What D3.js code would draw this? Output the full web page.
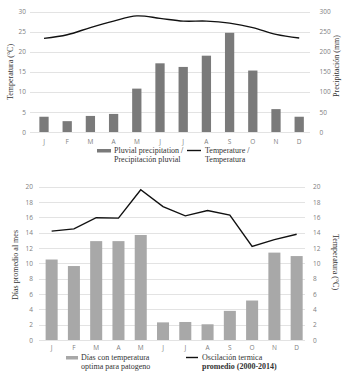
<!DOCTYPE html>
<html>
<head>
<meta charset="utf-8">
<script src="https://cdn.jsdelivr.net/npm/d3@7"></script>
<style>
  body { margin: 0; background: #fff; }
  svg { display: block; }
  .tick text { font-family: "Open Sans", sans-serif; font-size: 6.5px; fill: #808080; }
  .title { font-family: "Liberation Serif", serif; font-size: 8px; fill: #333; }
</style>
</head>
<body>
<div id="chart"></div>
<script>
const months = ['J', 'F', 'M', 'A', 'M', 'J', 'J', 'A', 'S', 'O', 'N', 'D'];

// top chart
const precipitation = [38, 27, 40, 45, 108, 171, 162, 190, 247, 153, 57, 38];
const temperature = [23.3, 24.2, 26.0, 27.6, 28.9, 28.3, 27.6, 27.6, 27.1, 26.0, 24.3, 23.4];
const tempTicks = [0, 5, 10, 15, 20, 25, 30];
const precTicks = [0, 50, 100, 150, 200, 250, 300];

// bottom chart
const optimalDays = [10.5, 9.65, 12.9, 12.9, 13.7, 2.3, 2.35, 2.05, 3.8, 5.15, 11.4, 10.95];
const thermalOscillation = [14.2, 14.5, 15.95, 15.9, 19.6, 17.4, 16.2, 16.9, 16.3, 12.2, 13.1, 13.8];
const dayTicks = [0, 2, 4, 6, 8, 10, 12, 14, 16, 18, 20];

const svg = d3.select('#chart')
    .append('svg')
    .attr('width', 346)
    .attr('height', 382);

const idx = months.map((m, i) => i);

function drawPanel(opt) {
    const g = svg.append('g');

    const x = d3.scaleBand()
        .domain(idx)
        .range(opt.xRange)
        .padding(0);

    const yL = d3.scaleLinear().domain(opt.leftDomain).range(opt.yRange);
    const yR = d3.scaleLinear().domain(opt.rightDomain).range(opt.yRange);

    // gridlines
    g.append('g')
        .selectAll('line')
        .data(opt.leftTicks)
        .join('line')
        .attr('x1', opt.gridX[0])
        .attr('x2', opt.gridX[1])
        .attr('y1', d => Math.round(yL(d)) + 0.5)
        .attr('y2', d => Math.round(yL(d)) + 0.5)
        .attr('stroke', '#e3e3e3')
        .attr('stroke-width', 1);

    // bars
    const barScale = opt.barsOnRight ? yR : yL;
    const bw = x.bandwidth() * opt.barRatio;
    g.append('g')
        .selectAll('rect')
        .data(opt.bars)
        .join('rect')
        .attr('x', (d, i) => x(i) + (x.bandwidth() - bw) / 2)
        .attr('y', d => barScale(d))
        .attr('width', bw)
        .attr('height', d => barScale(0) - barScale(d))
        .attr('fill', opt.barColor);

    // line
    const lineScale = opt.barsOnRight ? yL : yR;
    const line = d3.line()
        .x((d, i) => x(i) + x.bandwidth() / 2)
        .y(d => lineScale(d))
        .curve(opt.smooth ? d3.curveCatmullRom.alpha(0.5) : d3.curveLinear);
    g.append('path')
        .datum(opt.line)
        .attr('d', line)
        .attr('fill', 'none')
        .attr('stroke', '#111')
        .attr('stroke-width', 1.4);

    // axes
    const left = g.append('g')
        .attr('transform', `translate(${opt.leftAxisX},0)`)
        .call(d3.axisLeft(yL).tickValues(opt.leftTicks).tickSize(0).tickPadding(0));
    left.select('.domain').remove();

    const right = g.append('g')
        .attr('transform', `translate(${opt.rightAxisX},0)`)
        .call(d3.axisRight(yR).tickValues(opt.rightTicks).tickSize(0).tickPadding(0));
    right.select('.domain').remove();

    const bottom = g.append('g')
        .attr('transform', `translate(0,${opt.monthY})`)
        .call(d3.axisBottom(x).tickFormat(i => months[i]).tickSize(0).tickPadding(0));
    bottom.select('.domain').remove();

    // axis titles
    g.append('text')
        .attr('class', 'title')
        .attr('transform', `translate(${opt.leftTitle.x},${opt.leftTitle.y}) rotate(-90)`)
        .attr('text-anchor', 'middle')
        .text(opt.leftTitle.text);

    g.append('text')
        .attr('class', 'title')
        .attr('transform', `translate(${opt.rightTitle.x},${opt.rightTitle.y}) rotate(${opt.rightTitle.rotate})`)
        .attr('text-anchor', 'middle')
        .text(opt.rightTitle.text);

    // legend
    const lg = g.append('g');
    lg.append('rect')
        .attr('x', opt.legend.barX)
        .attr('y', opt.legend.y - 4)
        .attr('width', opt.legend.swatch)
        .attr('height', 3.5)
        .attr('fill', opt.barColor);
    opt.legend.barText.forEach((t, i) => {
        lg.append('text')
            .attr('class', 'title')
            .attr('x', opt.legend.barX + opt.legend.swatch + 3)
            .attr('y', opt.legend.y + i * 9)
            .text(t);
    });
    lg.append('line')
        .attr('x1', opt.legend.lineX)
        .attr('x2', opt.legend.lineX + opt.legend.swatch)
        .attr('y1', opt.legend.y - 2.5)
        .attr('y2', opt.legend.y - 2.5)
        .attr('stroke', '#111')
        .attr('stroke-width', 1.4);
    opt.legend.lineText.forEach((t, i) => {
        lg.append('text')
            .attr('class', 'title')
            .attr('x', opt.legend.lineX + opt.legend.swatch + 4)
            .attr('y', opt.legend.y + i * 9)
            .attr('font-weight', opt.legend.boldLast && i === 1 ? 'bold' : null)
            .text(t);
    });
}

drawPanel({
    xRange: [32.4, 310.8],
    yRange: [132, 11.5],
    gridX: [30, 310],
    leftDomain: [0, 30],
    rightDomain: [0, 300],
    leftTicks: tempTicks,
    rightTicks: precTicks,
    bars: precipitation,
    barsOnRight: true,
    barRatio: 0.4,
    barColor: '#7a7a7a',
    line: temperature,
    smooth: true,
    leftAxisX: 26,
    rightAxisX: 319.5,
    monthY: 139,
    leftTitle: {x: 12.5, y: 72, text: 'Temperatura (°C)'},
    rightTitle: {x: 339, y: 66, rotate: -90, text: 'Precipitación (mm)'},
    legend: {
        y: 153, barX: 97, lineX: 187, swatch: 14,
        barText: ['Pluvial precipitation /', 'Precipitación pluvial'],
        lineText: ['Temperature /', 'Temperatura']
    }
});

drawPanel({
    xRange: [40.5, 307.8],
    yRange: [340, 186.7],
    gridX: [39, 305],
    leftDomain: [0, 20],
    rightDomain: [0, 20],
    leftTicks: dayTicks,
    rightTicks: dayTicks,
    bars: optimalDays,
    barsOnRight: false,
    barRatio: 0.54,
    barColor: '#a8a8a8',
    line: thermalOscillation,
    smooth: false,
    leftAxisX: 33,
    rightAxisX: 313,
    monthY: 345,
    leftTitle: {x: 17.5, y: 265, text: 'Días promedio al mes'},
    rightTitle: {x: 333, y: 262, rotate: 90, text: 'Temperatura (°C)'},
    legend: {
        y: 360, barX: 66, lineX: 186, swatch: 12,
        barText: ['Días con temperatura', 'optima para patogeno'],
        lineText: ['Oscilación termica', 'promedio (2000-2014)'],
        boldLast: true
    }
});
</script>
</body>
</html>
